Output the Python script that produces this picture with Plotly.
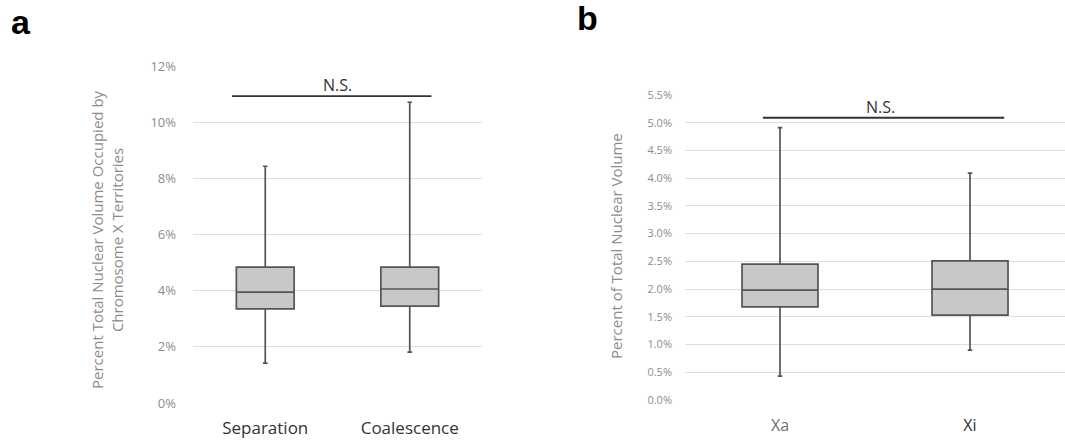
import plotly.graph_objects as go

# Panel a data (percent)
cats_a = ["Separation", "Coalescence"]
lower_a = [1.42, 1.81]
q1_a = [3.35, 3.45]
median_a = [3.95, 4.06]
q3_a = [4.84, 4.84]
upper_a = [8.43, 10.71]
ns_a = 10.93

# Panel b data (percent)
cats_b = ["Xa", "Xi"]
lower_b = [0.43, 0.90]
q1_b = [1.68, 1.53]
median_b = [1.98, 2.00]
q3_b = [2.45, 2.51]
upper_b = [4.91, 4.09]
ns_b = 5.09

ticks_a = [0, 2, 4, 6, 8, 10, 12]
ticks_b = [0, 0.5, 1.0, 1.5, 2.0, 2.5, 3.0, 3.5, 4.0, 4.5, 5.0, 5.5]
label_colors_b = ["#6e6e6e", "#333333"]

FONT = "Open Sans"
BOX_FILL = "#c8c8c8"
BOX_LINE = "#555555"
GRID = "#dedede"
TICKCOL = "#8c8c8c"

fig = go.Figure()

fig.add_trace(go.Box(
    x=cats_a, q1=q1_a, median=median_a, q3=q3_a,
    lowerfence=lower_a, upperfence=upper_a,
    boxpoints=False, width=0.4, whiskerwidth=0.08,
    fillcolor=BOX_FILL, line=dict(color=BOX_LINE, width=1.7),
    xaxis="x", yaxis="y", showlegend=False, hoverinfo="skip"))

fig.add_trace(go.Box(
    x=cats_b, q1=q1_b, median=median_b, q3=q3_b,
    lowerfence=lower_b, upperfence=upper_b,
    boxpoints=False, width=0.4, whiskerwidth=0.06,
    fillcolor=BOX_FILL, line=dict(color=BOX_LINE, width=1.7),
    xaxis="x2", yaxis="y2", showlegend=False, hoverinfo="skip"))

fig.update_layout(
    width=1065, height=440,
    margin=dict(l=0, r=0, t=0, b=0, autoexpand=False),
    paper_bgcolor="white", plot_bgcolor="white",
    font=dict(family=FONT),
    xaxis=dict(domain=[193/1065, 482/1065], type="category", anchor="y",
               range=[-0.5, 1.5], showgrid=False, zeroline=False,
               showline=False, ticks="outside", ticklen=10,
               tickcolor="rgba(0,0,0,0)", automargin=False,
               tickfont=dict(size=17, color="#333333", family=FONT)),
    yaxis=dict(domain=[37/440, 374/440], range=[0, 12], anchor="x",
               tickvals=ticks_a, ticktext=[f"{v}%" for v in ticks_a],
               showgrid=True, gridcolor=GRID, gridwidth=1.2,
               zeroline=False, showline=False, ticks="", automargin=False,
               tickfont=dict(size=13, color=TICKCOL, family=FONT),
               ticklabelstandoff=16),
    xaxis2=dict(domain=[685/1065, 1.0], type="category", anchor="y2",
                range=[-0.5, 1.5], showgrid=False, zeroline=False,
                showline=False, ticks="outside", ticklen=11,
                tickcolor="rgba(0,0,0,0)", automargin=False,
                tickvals=cats_b,
                ticktext=[f'<span style="color:{c}">{t}</span>'
                          for t, c in zip(cats_b, label_colors_b)],
                tickfont=dict(size=16, color="#555555", family=FONT)),
    yaxis2=dict(domain=[40/440, 345/440], range=[0, 5.5], anchor="x2",
                tickvals=ticks_b, ticktext=[f"{v:.1f}%" for v in ticks_b],
                showgrid=True, gridcolor=GRID, gridwidth=1.2,
                zeroline=False, showline=False, ticks="", automargin=False,
                tickfont=dict(size=11, color=TICKCOL, family=FONT),
                ticklabelstandoff=12),
)

# N.S. bars
fig.add_shape(type="line", xref="x", yref="y", x0=-0.23, x1=1.15,
              y0=ns_a, y1=ns_a, line=dict(color="#333333", width=1.8))
fig.add_shape(type="line", xref="x2", yref="y2", x0=-0.09, x1=1.18,
              y0=ns_b, y1=ns_b, line=dict(color="#333333", width=1.8))

annotations = [
    dict(text="<b>a</b>", x=9/1065, y=1-1/440, xref="paper", yref="paper",
         xanchor="left", yanchor="top", showarrow=False,
         font=dict(size=34, color="black", family="Liberation Sans")),
    dict(text="<b>b</b>", x=575/1065, y=1+3/440, xref="paper", yref="paper",
         xanchor="left", yanchor="top", showarrow=False,
         font=dict(size=34, color="black", family="Liberation Sans")),
    dict(text="N.S.", x=0.5, y=ns_a, xref="x", yref="y", yanchor="bottom",
         showarrow=False, yshift=-2,
         font=dict(size=16, color="#333333", family=FONT)),
    dict(text="N.S.", x=0.53, y=ns_b, xref="x2", yref="y2", yanchor="bottom",
         showarrow=False, yshift=-2,
         font=dict(size=16, color="#333333", family=FONT)),
    dict(text="Percent Total Nuclear Volume Occupied by<br>Chromosome X Territories",
         x=107/1065, y=1-240/440, xref="paper", yref="paper",
         xanchor="center", yanchor="middle", textangle=-90, showarrow=False,
         font=dict(size=15, color="#8c8c8c", family=FONT)),
    dict(text="Percent of Total Nuclear Volume",
         x=616/1065, y=1-246/440, xref="paper", yref="paper",
         xanchor="center", yanchor="middle", textangle=-90, showarrow=False,
         font=dict(size=15, color="#8c8c8c", family=FONT)),
]
fig.update_layout(annotations=annotations)

fig.write_html("out.html", config={"displayModeBar": False},
               post_script="document.body.style.margin='0';")
